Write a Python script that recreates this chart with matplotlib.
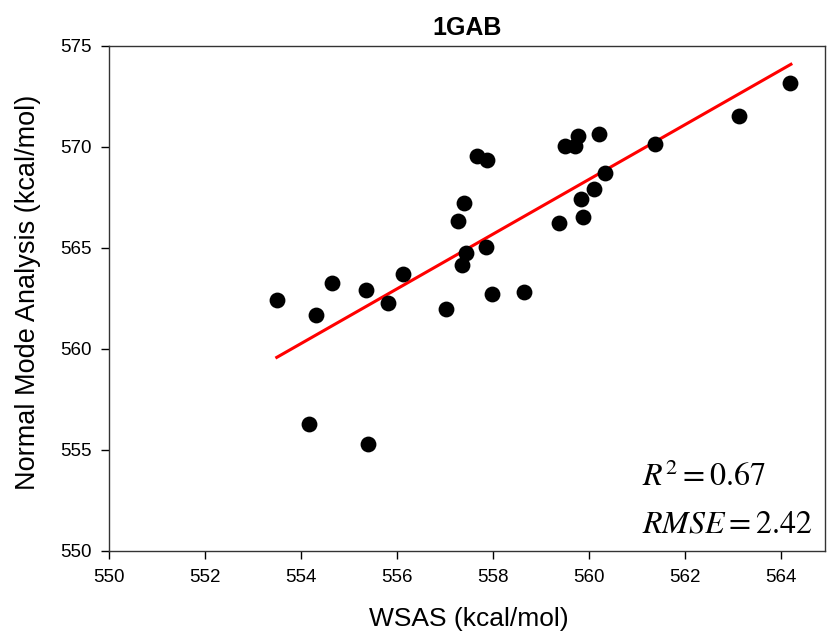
import numpy as np
import matplotlib.pyplot as plt

plt.rcParams['font.family'] = ['Liberation Sans', 'DejaVu Sans']
plt.rcParams['mathtext.fontset'] = 'stix'

# WSAS vs NMA energies (kcal/mol)
wsas = [553.51, 554.17, 554.32, 554.65, 555.36, 555.40, 555.81, 556.12,
        557.02, 557.28, 557.41, 557.36, 557.44, 557.68, 557.88, 557.86,
        557.99, 558.64, 559.37, 559.51, 559.71, 559.77, 559.83, 559.88,
        560.10, 560.22, 560.34, 561.38, 563.13, 564.19]
nma = [562.41, 556.29, 561.68, 563.27, 562.89, 555.30, 562.28, 563.68,
       561.98, 566.34, 567.20, 564.16, 564.72, 569.54, 569.34, 565.05,
       562.69, 562.81, 566.21, 570.03, 570.03, 570.53, 567.43, 566.53,
       567.89, 570.63, 568.68, 570.13, 571.52, 573.14]

# regression line end points
fit_x = [553.5, 564.21]
fit_y = [559.57, 574.08]

r2 = 0.67
rmse = 2.42

fig = plt.figure(figsize=(8.3, 6.41), dpi=100)
ax = fig.add_axes([0.131, 0.1409, 0.863, 0.7878])

ax.scatter(wsas, nma, s=130, color='black', zorder=3, linewidths=0)
ax.plot(fit_x, fit_y, color='red', lw=2.2, zorder=2)

ax.set_xlim(550, 564.92)
ax.set_ylim(550, 575)
ax.set_xticks(np.arange(550, 565, 2))
ax.set_yticks(np.arange(550, 576, 5))
ax.tick_params(direction='out', length=5.5, width=1, labelsize=13.5,
               colors='black')
ax.tick_params(axis='x', pad=7.5)
ax.tick_params(axis='y', pad=7)
for sp in ax.spines.values():
    sp.set_linewidth(1.0)
    sp.set_color('#333333')

ax.set_title('1GAB', fontsize=18, fontweight='bold', pad=7.7)
ax.set_xlabel('WSAS (kcal/mol)', fontsize=19)
ax.set_ylabel('Normal Mode Analysis (kcal/mol)', fontsize=19.5)
ax.xaxis.set_label_coords(0.503, -0.1115)
ax.yaxis.set_label_coords(-0.0945, 0.511)

ax.text(0.744, 0.128, r'$R^2 = %.2f$' % r2, transform=ax.transAxes,
        fontsize=23, va='baseline')
ax.text(0.744, 0.0356, r'$RMSE = %.2f$' % rmse, transform=ax.transAxes,
        fontsize=23, va='baseline')

fig.savefig('out.png', dpi=100)
